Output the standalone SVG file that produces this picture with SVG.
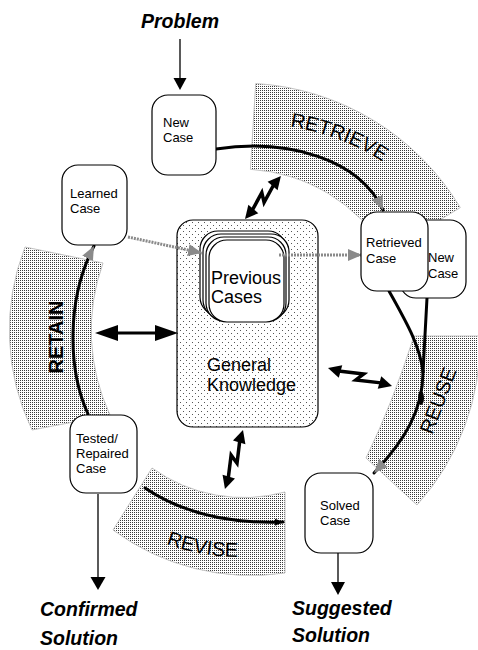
<svg xmlns="http://www.w3.org/2000/svg" width="478" height="650" viewBox="0 0 478 650">
  <style>
    .box { fill: #fff; stroke: #000; stroke-width: 1.2; }
    .lbl { font-family: "Liberation Sans", Arial, sans-serif; font-size: 13px; fill: #000; }
    .big { font-family: "Liberation Sans", Arial, sans-serif; font-size: 18px; fill: #000; }
    .io { font-family: "Liberation Sans", Arial, sans-serif; font-size: 19.5px; font-weight: bold; font-style: italic; fill: #000; }
    .phase { font-family: "Liberation Sans", Arial, sans-serif; font-size: 20px; fill: #000; }
    .band { fill: url(#stipple); stroke: #c4c4c4; stroke-width: 1; }
    .cycle { fill: none; stroke: #000; stroke-width: 3; stroke-linecap: round; }
    .flow { fill: none; stroke: #8a8a8a; stroke-width: 3; stroke-dasharray: 2 1; }
    .dbl { fill: none; stroke: #000; stroke-width: 3.5; stroke-linejoin: miter; }
    .head { fill: #000; }
  </style>
  <defs>
    <pattern id="stipple" width="2" height="2" patternUnits="userSpaceOnUse">
      <rect width="2" height="2" fill="#fff"/>
      <rect width="1" height="1" fill="#3a3a3a"/>
    </pattern>
    <pattern id="sparse" width="6" height="6" patternUnits="userSpaceOnUse">
      <rect width="6" height="6" fill="#fff"/>
      <rect x="0" y="0" width="1" height="1" fill="#555"/>
      <rect x="3" y="3" width="1" height="1" fill="#555"/>
    </pattern>
    <marker id="grayHead" viewBox="0 0 14 14" refX="14" refY="7" markerWidth="14" markerHeight="14" markerUnits="userSpaceOnUse" orient="auto">
      <path d="M0,1 L14,7 L0,13 Z" fill="#8a8a8a"/>
    </marker>
    <marker id="blackTip" viewBox="0 0 8 8" refX="8" refY="4" markerWidth="8" markerHeight="8" markerUnits="userSpaceOnUse" orient="auto">
      <path d="M0,0.5 L8,4 L0,7.5 Z" fill="#000"/>
    </marker>
    <path id="retrieveArc" d="M255,124 A236,236 0 0,1 459.4,242"/>
    <path id="reviseArc" d="M115.5,517.8 A217,217 0 0,0 348.5,527.9"/>
  </defs>

  <rect width="478" height="650" fill="#fff"/>

  <!-- phase bands -->
  <g id="bands">
    <path class="band" d="M255.7,83.5 A257,257 0 0,1 460.3,207.6 L386.6,251.9 A171,171 0 0,0 250.4,169.3 Z"/>
    <path class="band" d="M414,336 L480,336 A245,245 0 0,1 417,505 L366,458 Q392,405 414,336 Z"/>
    <path class="band" d="M152,468 A157,157 0 0,0 285,492 L285,573 A233,233 0 0,1 113,530 Z"/>
    <path class="band" d="M25,247 L103,263 A200,200 0 0,0 110,415 L32,430 A230,230 0 0,1 25,247 Z"/>
  </g>

  <g id="phase-labels">
    <text class="phase"><textPath href="#retrieveArc" startOffset="35">RETRIEVE</textPath></text>
    <text class="phase" transform="translate(444.5,403) rotate(-69)" text-anchor="middle">REUSE</text>
    <text class="phase"><textPath href="#reviseArc" startOffset="57">REVISE</textPath></text>
    <text class="phase" font-weight="bold" font-size="19" transform="translate(63,337) rotate(-90)" text-anchor="middle">RETAIN</text>
  </g>

  <!-- knowledge base -->
  <g id="general-knowledge">
    <rect x="177" y="220" width="141" height="207" rx="16" fill="url(#sparse)" stroke="#000" stroke-width="1.2"/>
    <text class="big" x="207" y="371">General</text>
    <text class="big" x="207" y="391">Knowledge</text>
  </g>

  <g id="previous-cases">
    <rect class="box" x="200" y="231" width="86" height="84" rx="18"/>
    <rect class="box" x="203" y="234" width="86" height="84" rx="18"/>
    <rect class="box" x="206" y="237" width="80" height="84" rx="18"/>
    <rect class="box" x="209" y="240" width="75" height="82" rx="18"/>
    <text class="big" x="211" y="284">Previous</text>
    <text class="big" x="211" y="303">Cases</text>
  </g>

  <!-- connectors -->
  <g id="connectors">
    <!-- cycle -->
    <path class="cycle" d="M216,149 C290,138 360,160 383,210" marker-end="url(#grayHead)"/>
    <path class="cycle" d="M389,291 C405,320 420,345 423,372"/>
    <path class="cycle" d="M427,298 L423,372"/>
    <path class="cycle" d="M423,372 C423,410 405,440 374,473" marker-end="url(#grayHead)"/>
    <ellipse cx="421" cy="398" rx="3" ry="7" fill="#000"/>
    <path class="cycle" d="M145,488 Q200,525 283,522" marker-end="url(#blackTip)"/>
    <path class="cycle" d="M88,414 C68,370 66,300 94,246" marker-end="url(#grayHead)"/>

    <!-- case flow -->
    <path class="flow" d="M128,237 L202,253" marker-end="url(#grayHead)"/>
    <path class="flow" d="M279,255 L362,255" marker-end="url(#grayHead)"/>

    <!-- input / output -->
    <line x1="180" y1="39" x2="180" y2="80" stroke="#000" stroke-width="1.3"/>
    <path class="head" d="M173.5,78 L186.5,78 L180,90 Z"/>
    <line x1="98" y1="494" x2="98" y2="578" stroke="#000" stroke-width="1.3"/>
    <path class="head" d="M90.5,577 L105.5,577 L98,590 Z"/>
    <line x1="338" y1="553" x2="338" y2="583" stroke="#000" stroke-width="1.3"/>
    <path class="head" d="M331,582 L345,582 L338,595 Z"/>

    <!-- knowledge exchange -->
    <g transform="translate(95,333)">
      <line x1="20" y1="0" x2="63" y2="0" stroke="#000" stroke-width="3"/>
      <path class="head" d="M0,0 L23,-8 L23,8 Z"/>
      <path class="head" d="M83,0 L60,-8 L60,8 Z"/>
    </g>
    <g transform="translate(245,219) rotate(-50.1)">
      <polyline class="dbl" points="11,0 31,-4 25,4 45,0"/>
      <path class="head" d="M0,0 L13,-6.5 L13,6.5 Z"/>
      <path class="head" d="M56,0 L43,-6.5 L43,6.5 Z"/>
    </g>
    <g transform="translate(328,368) rotate(15.7)">
      <polyline class="dbl" points="11,0 36,-4 30,4 55,0"/>
      <path class="head" d="M0,0 L13,-6.5 L13,6.5 Z"/>
      <path class="head" d="M66.5,0 L53.5,-6.5 L53.5,6.5 Z"/>
    </g>
    <g transform="translate(243,430) rotate(107)">
      <polyline class="dbl" points="11,0 33.5,-4 27.5,4 50.5,0"/>
      <path class="head" d="M0,0 L13,-6.5 L13,6.5 Z"/>
      <path class="head" d="M61.7,0 L48.7,-6.5 L48.7,6.5 Z"/>
    </g>
  </g>

  <!-- case nodes -->
  <g id="new-case">
    <rect class="box" x="152" y="95" width="64" height="80" rx="16"/>
    <text class="lbl" x="163" y="127">New</text>
    <text class="lbl" x="163" y="142">Case</text>
  </g>
  <g id="learned-case">
    <rect class="box" x="62" y="165" width="65" height="80" rx="16"/>
    <text class="lbl" x="70" y="198">Learned</text>
    <text class="lbl" x="70" y="213">Case</text>
  </g>
  <g id="new-case-2">
    <rect class="box" x="400" y="220" width="66" height="78" rx="16"/>
    <text class="lbl" x="428" y="262">New</text>
    <text class="lbl" x="428" y="278">Case</text>
  </g>
  <g id="retrieved-case">
    <rect class="box" x="361" y="212" width="67" height="79" rx="16"/>
    <text class="lbl" x="366" y="247">Retrieved</text>
    <text class="lbl" x="366" y="263">Case</text>
  </g>
  <g id="solved-case">
    <rect class="box" x="305" y="473" width="68" height="80" rx="16"/>
    <text class="lbl" x="320" y="510">Solved</text>
    <text class="lbl" x="320" y="525">Case</text>
  </g>
  <g id="tested-case">
    <rect class="box" x="70" y="415" width="67" height="78" rx="16"/>
    <text class="lbl" x="76" y="443">Tested/</text>
    <text class="lbl" x="76" y="458">Repaired</text>
    <text class="lbl" x="76" y="473">Case</text>
  </g>

  <!-- inputs and outputs -->
  <g id="problem"><text class="io" x="141" y="28">Problem</text></g>
  <g id="confirmed-solution">
    <text class="io" x="40" y="616">Confirmed</text>
    <text class="io" x="40" y="645">Solution</text>
  </g>
  <g id="suggested-solution">
    <text class="io" x="292" y="615">Suggested</text>
    <text class="io" x="292" y="642">Solution</text>
  </g>
</svg>
